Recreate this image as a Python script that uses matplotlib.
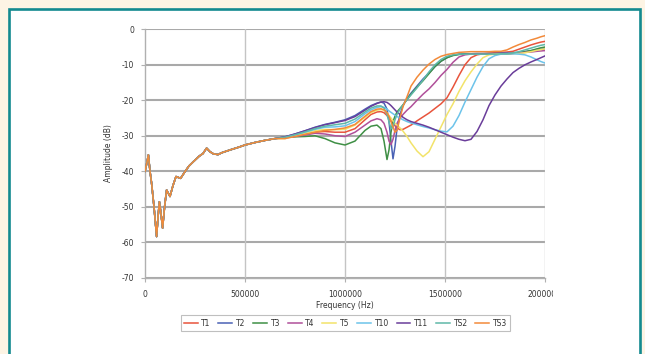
import matplotlib
matplotlib.use("Agg")
import matplotlib.pyplot as plt
from matplotlib.patches import Rectangle
from matplotlib.transforms import Bbox

# ---- data ----
common_x = [0, 8000, 17000, 25000, 33000, 45000, 58000, 65000, 72000, 80000, 88000,
            98000, 108000, 125000, 140000, 155000, 178000, 200000, 220000, 242000,
            270000, 290000, 308000, 325000, 342000, 365000, 383000, 425000, 470000,
            500000, 550000, 600000, 650000]
common_y = [-40, -38, -35.4, -40, -43.4, -50, -58.4, -53, -48.6, -52, -56,
            -50, -45.3, -47.1, -44, -41.5, -42, -40.1, -38.5, -37.3,
            -35.8, -35, -33.5, -34.5, -35.1, -35.3, -34.8, -34, -33.2,
            -32.6, -31.9, -31.3, -30.8]

tail_x = [700e3, 750e3, 800e3, 850e3, 900e3, 950e3, 1000e3, 1050e3, 1100e3, 1130e3,
          1160e3, 1180e3, 1195e3, 1210e3, 1220e3, 1230e3, 1240e3, 1250e3, 1260e3,
          1275e3, 1290e3, 1310e3, 1330e3, 1360e3, 1390e3, 1420e3, 1450e3, 1480e3,
          1510e3, 1540e3, 1570e3, 1600e3, 1630e3, 1660e3, 1690e3, 1720e3, 1750e3,
          1780e3, 1810e3, 1840e3, 1870e3, 1900e3, 1930e3, 1960e3, 1980e3, 2000e3]

T1 = [-30.5, -30, -29.5, -29, -28.8, -29, -29, -28, -25.5, -24,
      -23.3, -23.2, -23.5, -24.3, -25, -25.8, -26.5, -27.2, -27.8,
      -28.3, -28.2, -27.6, -27, -25.8, -24.7, -23.6, -22.3, -21,
      -19.3, -16.3, -13, -10, -8, -7.2, -6.9, -6.7, -6.6,
      -6.5, -6.4, -6.2, -5.6, -5, -4.4, -3.9, -3.6, -3.4]
T2 = [-30.3, -29.5, -28.6, -27.6, -26.8, -26.2, -25.5, -24.3, -22.5, -21.5,
      -20.8, -20.5, -20.8, -22.5, -26, -31.5, -36.5, -33, -28,
      -24, -21.5, -19.5, -18, -16, -14, -12.3, -10.5, -9,
      -8, -7.3, -7, -6.9, -6.9, -6.8, -6.8, -6.8, -6.8,
      -6.7, -6.7, -6.6, -6.5, -6.3, -6, -5.8, -5.6, -5.5]
T3 = [-30.5, -30.3, -30.2, -30, -30.8, -32, -32.6, -31.5, -28.5, -27.3,
      -27, -28, -31.5, -36.7, -34, -29, -26, -24.5, -23.3,
      -22.3, -21.3, -19.8, -18.3, -16.3, -14.5, -12.5, -10.5, -9,
      -8, -7.4, -7.1, -7, -7, -7, -7, -7, -7,
      -7, -7, -6.8, -6.6, -6.3, -6, -5.5, -5.2, -5]
T4 = [-30.5, -30.2, -29.8, -29.3, -29.5, -30, -30.2, -29, -27, -25.8,
      -25.2, -25.5, -26.5, -29, -31.5, -32.5, -31, -28.5, -26.5,
      -25, -24, -22.8, -21.8, -20, -18.3, -16.8, -15, -13,
      -11.3, -9.3, -7.8, -7.2, -7, -7, -7, -7, -7,
      -7, -6.9, -6.8, -6.7, -6.5, -6.4, -6.2, -6.1, -6]
T5 = [-30.8, -30, -29.3, -28.6, -28.2, -28.3, -28.2, -27, -24.8, -23.5,
      -22.8, -22.6, -22.8, -23.5, -24.3, -25, -25.8, -26.5, -27,
      -27.8, -28.7, -30.2, -32, -34.3, -35.9, -34.5, -31, -27.5,
      -24, -21, -17.5, -14.5, -12, -9.8, -8, -7.2, -7,
      -6.9, -6.9, -6.8, -6.8, -6.6, -6.3, -5.9, -5.7, -5.5]
T10 = [-30.6, -29.8, -29, -28.2, -27.6, -27.5, -27.2, -26, -23.8, -22.7,
       -22, -21.8, -22, -22.5, -23, -23.4, -23.8, -24.2, -24.6,
       -25, -25.5, -26, -26.4, -26.9, -27.4, -27.8, -28.3, -28.7,
       -28.9, -27.3, -24.3, -20.5, -17, -13.5, -10.5, -8.3, -7.4,
       -7, -6.9, -6.9, -7, -7.2, -7.8, -8.6, -9.1, -9.5]
T11 = [-30.3, -29.5, -28.6, -27.7, -26.9, -26.3, -25.7, -24.6, -22.8, -21.7,
       -20.9, -20.5, -20.4, -20.6, -21, -21.5, -22.1, -22.7, -23.3,
       -24, -24.8, -25.5, -26, -26.5, -27, -27.6, -28.3, -29,
       -29.7, -30.4, -31, -31.4, -31, -28.8, -25.5, -21.5, -18.5,
       -16, -14, -12.2, -11, -10, -9.2, -8.5, -8, -7.5]
TS2 = [-30.4, -29.7, -28.9, -28, -27.3, -26.9, -26.5, -25.3, -23.3, -22.2,
       -21.6, -21.6, -22.2, -24, -26, -28, -27.5, -25.5, -24,
       -22.5, -21.3, -19.8, -18.5, -16.5, -14.3, -12, -10, -8.5,
       -7.6, -7.2, -7, -7, -7, -7, -7, -7, -7,
       -6.9, -6.9, -6.7, -6.3, -5.8, -5.3, -4.8, -4.5, -4.3]
TS3 = [-30.8, -30.2, -29.6, -29, -28.5, -28.2, -27.8, -26.8, -24.5, -23.2,
       -22.5, -22.4, -22.7, -23.5, -24.5, -26, -27.5, -29, -28.5,
       -25, -21.8, -19, -16, -13.5, -11.5, -9.8, -8.5, -7.6,
       -7.1, -6.8, -6.5, -6.4, -6.3, -6.3, -6.3, -6.3, -6.2,
       -6.2, -5.8, -5, -4.3, -3.7, -3, -2.5, -2.1, -1.8]

series_names = ["T1", "T2", "T3", "T4", "T5", "T10", "T11", "TS2", "TS3"]
series_tails = [T1, T2, T3, T4, T5, T10, T11, TS2, TS3]
series_colors = ["#e8543c", "#4a62b5", "#3f8f45", "#b0509a", "#f2e36a",
                 "#6cc3ea", "#6a3d9a", "#5fb8a8", "#f28a3a"]

yticks = [0, -10, -20, -30, -40, -50, -60, -70]
xticks = [0, 500000, 1000000, 1500000, 2000000]
xtick_labels = ["0", "500000", "1000000", "1500000", "2000000"]

# ---- figure ----
W, H = 645, 354
fig = plt.figure(figsize=(W / 100, H / 100), dpi=100, facecolor="#fdf4e4")
fig.patches.append(Rectangle((9 / W, -0.05), 631 / W, 1 - 9 / H + 0.05,
                             transform=fig.transFigure, facecolor="white",
                             edgecolor="#138a8f", linewidth=1.9, zorder=-10))

ax = fig.add_axes([145 / W, 1 - 277.7 / H, 400 / W, (277.7 - 29.3) / H])
ax.set_facecolor("white")

x_all = common_x + tail_x
for name, tail, col in zip(series_names, series_tails, series_colors):
    ax.plot(x_all, common_y + tail, color=col, lw=1.1, label=name, zorder=3)

ax.set_xlim(0, 2000000)
ax.set_ylim(-70, 0)
ax.set_yticks(yticks)
ax.set_yticklabels([str(v) for v in yticks])
ax.set_xticks(xticks)
ax.set_xticklabels(xtick_labels)

for y in yticks:
    ax.axhline(y, color="#a9a9a9", lw=1.5, zorder=1)
for x in xticks[1:]:
    ax.axvline(x, color="#c4c4c4", lw=1.0, zorder=1)

for s in ["top", "right"]:
    ax.spines[s].set_visible(False)
for s in ["left", "bottom"]:
    ax.spines[s].set_color("#b0b0b0")
    ax.spines[s].set_linewidth(1.0)

ax.tick_params(axis="both", labelsize=5.5, colors="#b0b0b0", labelcolor="#333333",
               length=3, width=0.8, pad=6)
ax.tick_params(axis="y", pad=5)

ax.set_xlabel("Frequency (Hz)", fontsize=5.5, color="#333333", labelpad=1)
ax.set_ylabel("Amplitude (dB)", fontsize=5.5, color="#333333", labelpad=6)

leg = fig.legend(loc="center", bbox_to_anchor=(345.5 / W, 1 - 323 / H), ncol=9,
                 fontsize=5.5, frameon=True, fancybox=False, handlelength=1.8,
                 columnspacing=1.0, handletextpad=0.5, borderpad=0.4,
                 edgecolor="#b0b0b0")
leg.get_frame().set_linewidth(0.8)
for t in leg.get_texts():
    t.set_color("#333333")

fig.canvas.draw()
last = ax.get_xticklabels()[-1]
last.set_clip_box(Bbox.from_extents(0, 0, 553, H))
last.set_clip_on(True)

fig.savefig("out.png", dpi=100, facecolor=fig.get_facecolor())
